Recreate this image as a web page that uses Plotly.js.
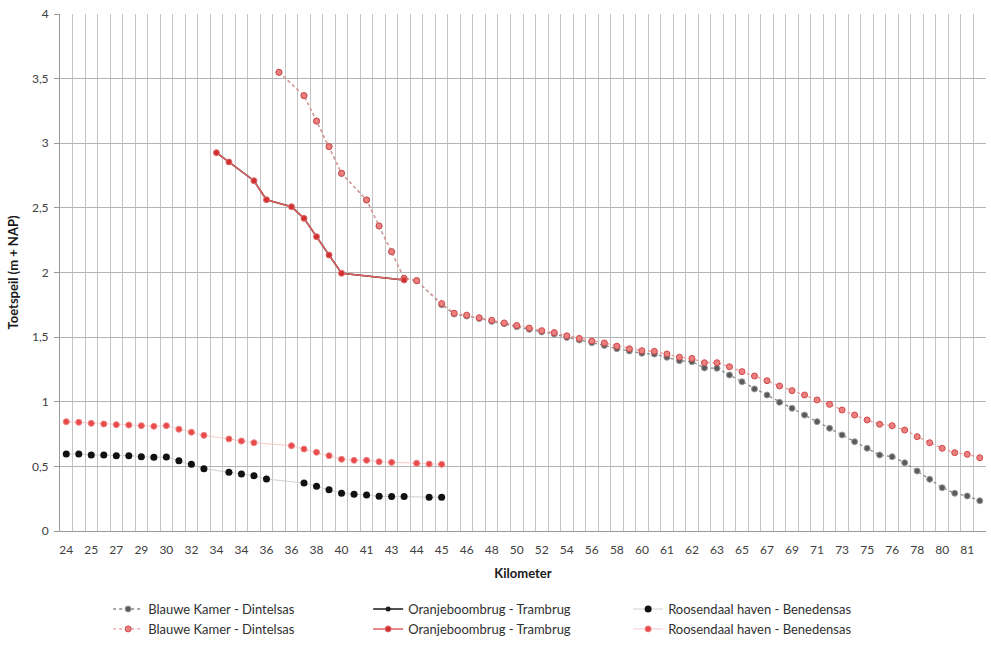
<!DOCTYPE html>
<html>
<head>
<meta charset="utf-8">
<script src="https://cdn.plot.ly/plotly-3.0.1.min.js"></script>
<style>
  html, body { margin: 0; padding: 0; background: #ffffff; }
  #chart { width: 991px; height: 649px; }
</style>
</head>
<body>
<div id="chart"></div>
<script>
// Tick labels shown on the category axis (every second category)
var kmTickLabels = ["24","25","27","29","30","32","34","34","36","36","38","40","41","43","44","45",
  "46","48","50","52","54","56","58","60","61","62","63","65","67","69","71","73","75","76","78","80","81"];
var categoryCount = 74;

// Roosendaal haven - Benedensas
var roosBlack = [0.596,0.596,0.588,0.588,0.583,0.583,0.575,0.570,0.573,0.544,
  0.516,0.482,null,0.454,0.441,0.428,0.402,null,null,0.371,
  0.346,0.320,0.292,0.284,0.279,0.268,0.266,0.266,null,0.261,
  0.261];
var roosRed = [0.846,0.841,0.833,0.828,0.823,0.820,0.815,0.810,0.815,0.787,
  0.764,0.740,null,0.712,0.696,0.683,null,null,0.660,0.634,
  0.609,0.583,0.555,0.547,0.547,0.536,0.531,null,0.524,0.518,
  0.516];

// Oranjeboombrug - Trambrug
var oranjeBlack = [null,null,null,null,null,null,null,null,null,null,
  null,null,2.927,2.855,null,2.710,2.563,null,2.509,2.419,
  2.277,2.135,1.994,null,null,null,null,1.942];
var oranjeRed = [null,null,null,null,null,null,null,null,null,null,
  null,null,2.927,2.855,null,2.710,2.563,null,2.509,2.419,
  2.277,2.135,1.994,null,null,null,null,1.942];

// Blauwe Kamer - Dintelsas
var blauweBlack = [null,null,null,null,null,null,null,null,null,null,
  null,null,null,null,null,null,null,3.549,null,3.368,
  3.172,2.974,2.767,null,2.561,2.360,2.161,1.955,1.937,null,
  1.750,1.679,1.663,1.645,1.622,1.604,1.581,1.560,1.540,1.524,
  1.498,1.478,1.457,1.436,1.411,1.393,1.375,1.369,1.344,1.318,
  1.310,1.262,1.259,1.207,1.155,1.099,1.052,0.996,0.949,0.897,
  0.846,0.795,0.743,0.691,0.640,0.588,0.575,0.528,0.464,0.400,
  0.335,0.292,0.271,0.234];
var blauweRed = [null,null,null,null,null,null,null,null,null,null,
  null,null,null,null,null,null,null,3.549,null,3.368,
  3.172,2.974,2.767,null,2.561,2.360,2.161,1.955,1.937,null,
  1.760,1.685,1.670,1.650,1.630,1.610,1.590,1.570,1.550,1.535,
  1.510,1.490,1.470,1.455,1.430,1.410,1.395,1.390,1.370,1.345,
  1.335,1.302,1.302,1.271,1.233,1.199,1.163,1.122,1.086,1.052,
  1.014,0.980,0.936,0.897,0.859,0.826,0.815,0.781,0.730,0.683,
  0.640,0.606,0.593,0.567];

var idx = [];
for (var i = 0; i < categoryCount; i++) idx.push(i);
var tickIdx = [];
for (var j = 0; j < kmTickLabels.length; j++) tickIdx.push(j * 2);

function sub(arr) { return idx.slice(0, arr.length); }

var traces = [
  { name: "Blauwe Kamer - Dintelsas", x: sub(blauweBlack), y: blauweBlack, mode: "lines+markers",
    connectgaps: true, line: { color: "#8a8a8a", width: 1.3, dash: "dot" },
    marker: { symbol: "circle", size: 6, color: "#5a5a5a", line: { color: "#9a9a9a", width: 1 } } },
  { name: "Oranjeboombrug - Trambrug", x: sub(oranjeBlack), y: oranjeBlack, mode: "lines+markers",
    connectgaps: true, line: { color: "#1a1a1a", width: 1.5 },
    marker: { symbol: "circle", size: 5, color: "#1a1a1a" } },
  { name: "Roosendaal haven - Benedensas", x: sub(roosBlack), y: roosBlack, mode: "lines+markers",
    connectgaps: true, line: { color: "#d0d0d0", width: 1 },
    marker: { symbol: "circle", size: 7, color: "#111111" } },
  { name: "Blauwe Kamer - Dintelsas", x: sub(blauweRed), y: blauweRed, mode: "lines+markers",
    connectgaps: true, line: { color: "#e89a9a", width: 1.3, dash: "dot" },
    marker: { symbol: "circle", size: 6, color: "#ec8080", line: { color: "#d04848", width: 1 } } },
  { name: "Oranjeboombrug - Trambrug", x: sub(oranjeRed), y: oranjeRed, mode: "lines+markers",
    connectgaps: true, line: { color: "#e06060", width: 1.5 },
    marker: { symbol: "circle", size: 6, color: "#d03030", line: { color: "#e07070", width: 1 } } },
  { name: "Roosendaal haven - Benedensas", x: sub(roosRed), y: roosRed, mode: "lines+markers",
    connectgaps: true, line: { color: "#f3c9c9", width: 1 },
    marker: { symbol: "circle", size: 6, color: "#e64a4a", line: { color: "#f08080", width: 1 } } }
];

var layout = {
  width: 991, height: 649,
  paper_bgcolor: "#ffffff", plot_bgcolor: "#ffffff",
  margin: { l: 60, r: 5, t: 14, b: 118 },
  separators: ",.",
  font: { family: "Lato, 'Open Sans', sans-serif", size: 12, color: "#404040" },
  showlegend: true,
  xaxis: {
    range: [-0.5, categoryCount - 0.5],
    tickmode: "array", tickvals: tickIdx, ticktext: kmTickLabels,
    showgrid: false, zeroline: false,
    showline: true, linecolor: "#9a9a9a", linewidth: 1,
    ticks: "", ticklabelstandoff: 8, tickfont: { size: 12, color: "#404040" },
    minor: { tickmode: "linear", tick0: -0.5, dtick: 1, showgrid: true, gridcolor: "#c4c4c4", gridwidth: 1, ticks: "" },
    title: { text: "Kilometer", font: { size: 13, color: "#1a1a1a", family: "Lato, sans-serif", weight: "bold" }, standoff: 12 },
    fixedrange: true
  },
  yaxis: {
    range: [0, 4], dtick: 0.5, tick0: 0,
    showgrid: true, gridcolor: "#b4b4b4", gridwidth: 1,
    zeroline: false, showline: true, linecolor: "#9a9a9a", linewidth: 1,
    ticks: "outside", ticklen: 5, tickcolor: "#9a9a9a", ticklabelstandoff: 3,
    tickfont: { size: 12, color: "#404040" },
    title: { text: "Toetspeil (m + NAP)", font: { size: 13, color: "#1a1a1a", family: "Lato, sans-serif", weight: "bold" }, standoff: 10 },
    fixedrange: true
  },
  legend: {
    orientation: "h", x: 0.052, xanchor: "left", y: -0.122, yanchor: "top",
    entrywidth: 215, entrywidthmode: "pixels", tracegroupgap: 0,
    font: { size: 13, color: "#303030" }, bgcolor: "rgba(0,0,0,0)"
  }
};

Plotly.newPlot("chart", traces, layout, { displayModeBar: false, staticPlot: true });
</script>
</body>
</html>
